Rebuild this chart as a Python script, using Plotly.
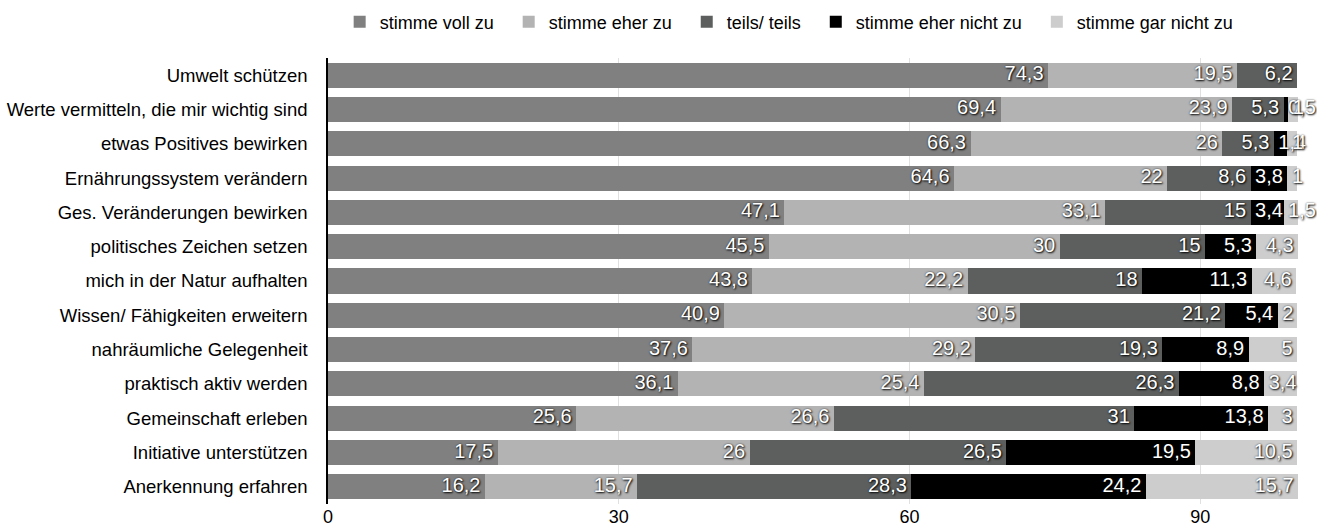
import plotly.graph_objects as go

categories = [
    "Umwelt schützen",
    "Werte vermitteln, die mir wichtig sind",
    "etwas Positives bewirken",
    "Ernährungssystem verändern",
    "Ges. Veränderungen bewirken",
    "politisches Zeichen setzen",
    "mich in der Natur aufhalten",
    "Wissen/ Fähigkeiten erweitern",
    "nahräumliche Gelegenheit",
    "praktisch aktiv werden",
    "Gemeinschaft erleben",
    "Initiative unterstützen",
    "Anerkennung erfahren",
]

series_names = ["stimme voll zu", "stimme eher zu", "teils/ teils",
                "stimme eher nicht zu", "stimme gar nicht zu"]

voll_zu = [74.3, 69.4, 66.3, 64.6, 47.1, 45.5, 43.8, 40.9, 37.6, 36.1, 25.6, 17.5, 16.2]
eher_zu = [19.5, 23.9, 26, 22, 33.1, 30, 22.2, 30.5, 29.2, 25.4, 26.6, 26, 15.7]
teils = [6.2, 5.3, 5.3, 8.6, 15, 15, 18, 21.2, 19.3, 26.3, 31, 26.5, 28.3]
eher_nicht = [0, 0.5, 1.4, 3.8, 3.4, 5.3, 11.3, 5.4, 8.9, 8.8, 13.8, 19.5, 24.2]
gar_nicht = [0, 1.0, 1, 1, 1.5, 4.3, 4.6, 2, 5, 3.4, 3, 10.5, 15.7]

series_values = [voll_zu, eher_zu, teils, eher_nicht, gar_nicht]
colors = ["#808080", "#b3b3b3", "#5c5f5e", "#000000", "#cdcdcd"]

FONT = "Liberation Sans, Arial, Helvetica, sans-serif"
XMAX = 100.3
PLOT_L = 328
PLOT_W = 972
PLOT_T = 58
PLOT_H = 446
W, H = 1317, 529
px_per_unit = PLOT_W / XMAX
LABEL_SIZE = 20
PAD_PX = 4.5


def fmt(v):
    s = ("%.1f" % v).rstrip("0").rstrip(".")
    return s.replace(".", ",")


def text_w(s):
    return sum((0.278 if ch == "," else 0.556) for ch in s) * LABEL_SIZE


fig = go.Figure()
for name, vals, col in zip(series_names, series_values, colors):
    fig.add_trace(go.Bar(
        name=name + "\u00a0\u00a0", y=categories, x=vals, orientation="h",
        marker=dict(color=col, line=dict(width=0)),
        hoverinfo="skip",
    ))

# labels
lx, ly, lt, lp = [], [], [], []
for i, cat in enumerate(categories):
    cum = 0.0
    for vals in series_values:
        v = vals[i]
        start, end = cum, cum + v
        cum = end
        if v <= 0:
            continue
        s = fmt(v)
        seg_px = v * px_per_unit
        pad = PAD_PX / px_per_unit
        if text_w(s) + 2 * PAD_PX <= seg_px:
            lx.append(end - pad)
            lp.append("middle left")
        else:
            lx.append(start + pad)
            lp.append("middle right")
        ly.append(cat)
        lt.append(s)

fig.add_trace(go.Scatter(
    x=lx, y=ly, text=lt, mode="text", textposition=lp,
    textfont=dict(color="white", size=LABEL_SIZE, family=FONT,
                  shadow="1px 1px 2px rgba(0,0,0,0.95), 0px 0px 2px rgba(0,0,0,0.6)"),
    showlegend=False, hoverinfo="skip", cliponaxis=False,
))

fig.update_layout(
    barmode="stack",
    bargap=0.27,
    width=W, height=H,
    margin=dict(l=PLOT_L, r=W - PLOT_L - PLOT_W, t=PLOT_T, b=H - PLOT_T - PLOT_H,
                autoexpand=False),
    plot_bgcolor="white", paper_bgcolor="white",
    font=dict(family=FONT, size=18, color="#000"),
    legend=dict(orientation="h", x=0.012, xanchor="left",
                yref="container", y=1 - 22 / H, yanchor="middle",
                font=dict(size=18), traceorder="normal", itemclick=False),
    xaxis=dict(range=[0, XMAX], tickvals=[0, 30, 60, 90], ticktext=["0", "30", "60", "90"],
               showgrid=True, gridcolor="#e0e0e0", gridwidth=1, zeroline=False,
               showline=False, ticks="", tickfont=dict(size=18)),
    yaxis=dict(range=[len(categories) - 0.5, -0.5], showline=True, linecolor="black",
               linewidth=1.5, ticks="", showgrid=False, ticklabelstandoff=15,
               tickfont=dict(size=18.5)),
)

fig.write_html("out.html", config={"displayModeBar": False},
               post_script="document.body.style.margin='0';")
